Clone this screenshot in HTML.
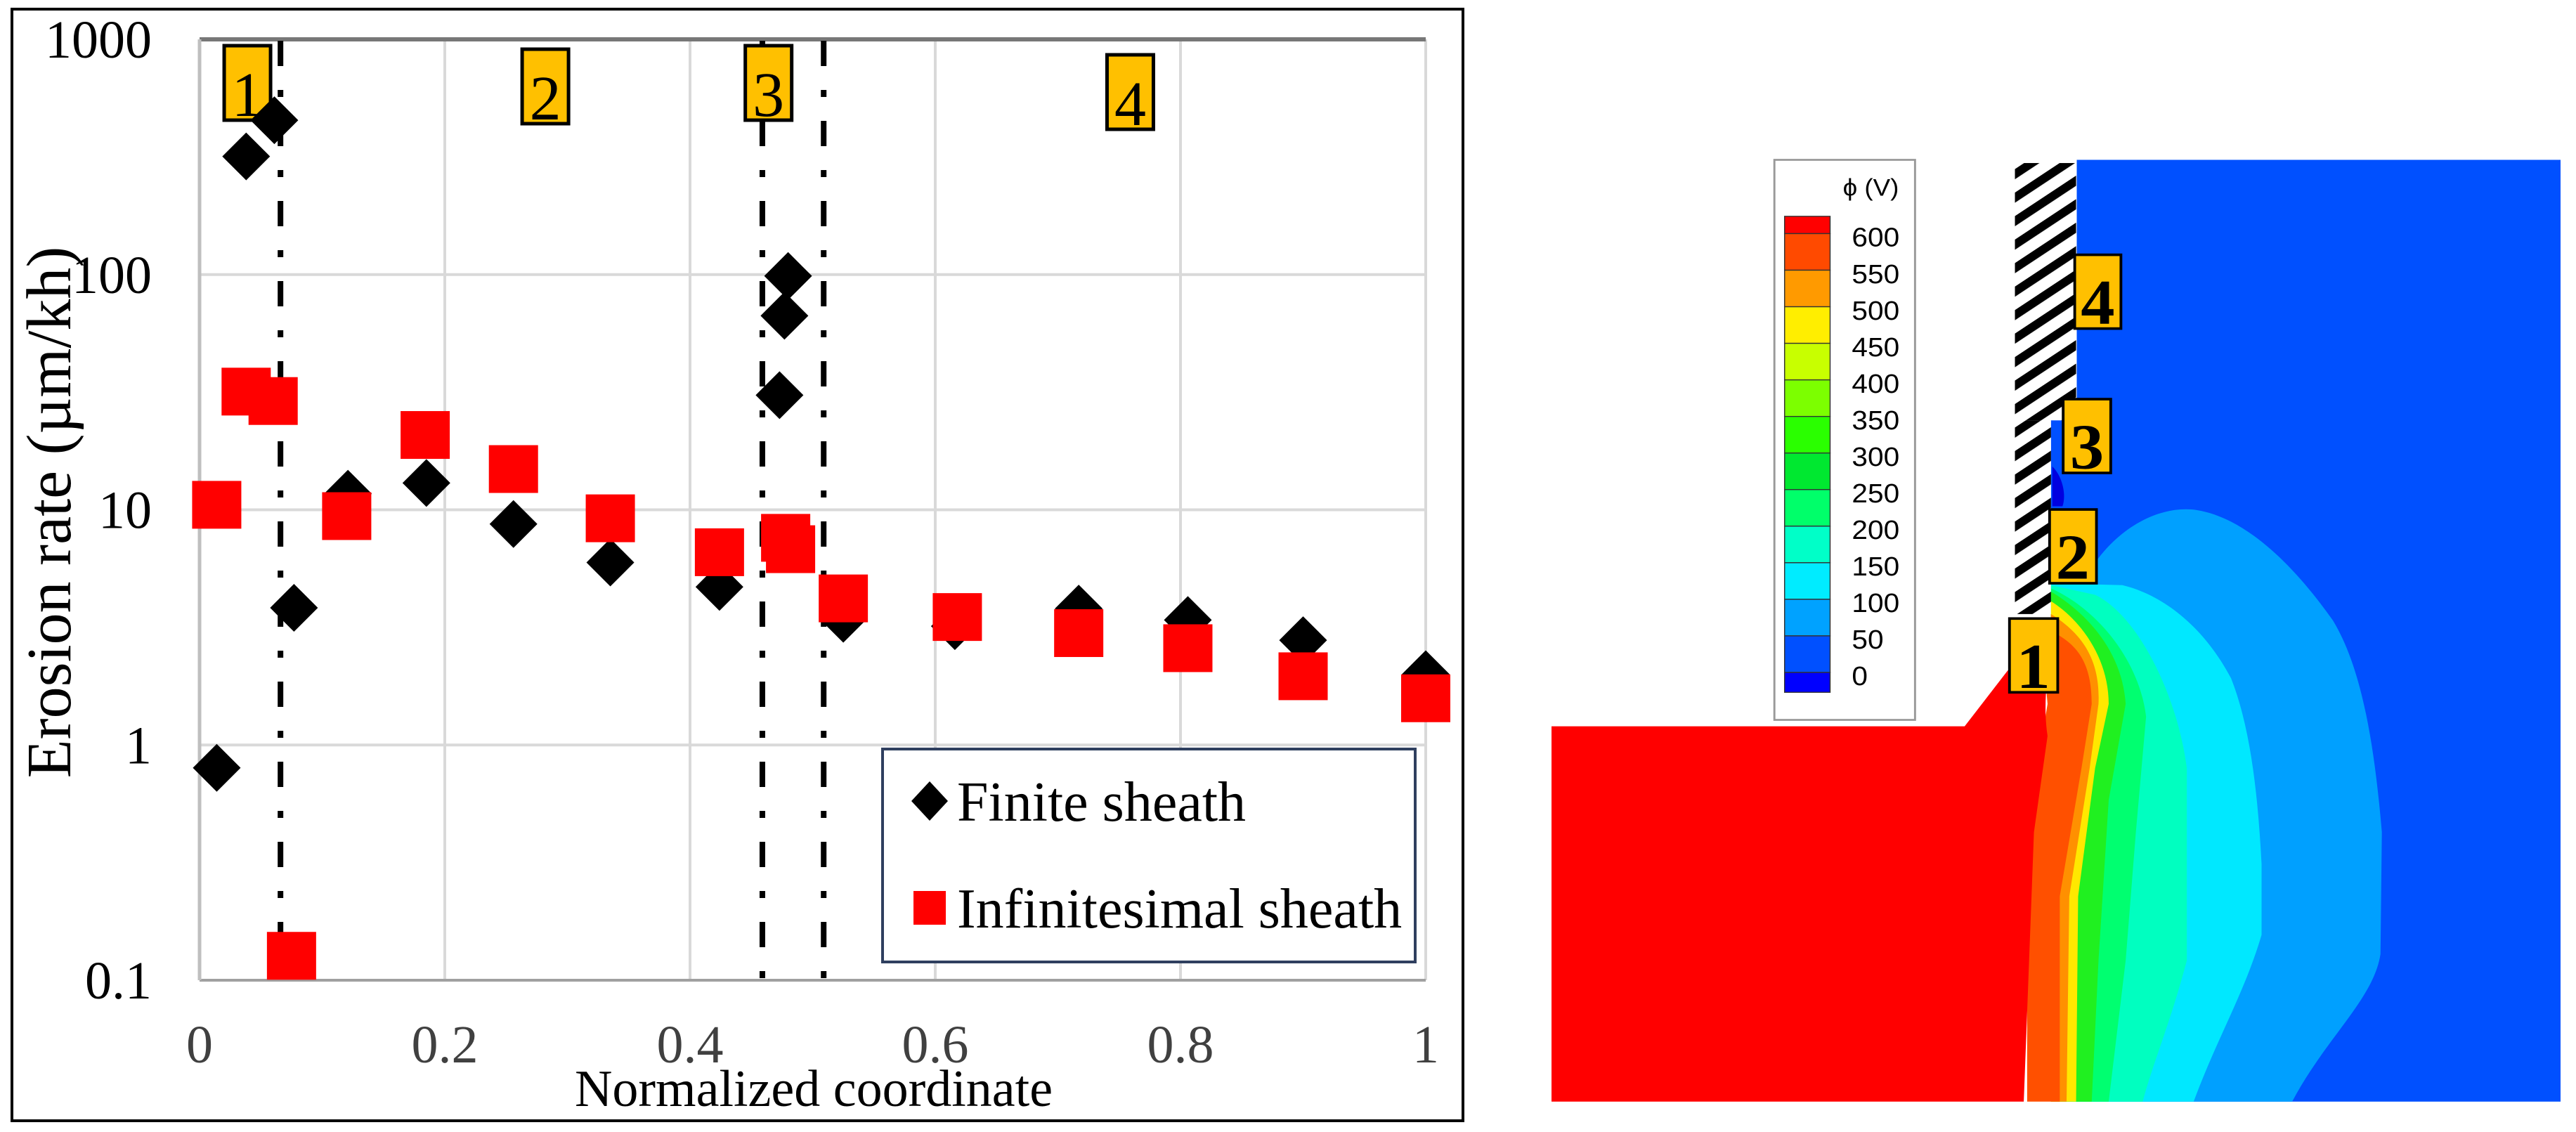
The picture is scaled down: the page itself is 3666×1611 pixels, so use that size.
<!DOCTYPE html>
<html><head><meta charset="utf-8"><style>
html,body{margin:0;padding:0;background:#fff;}
svg{display:block;}
</style></head><body>
<svg id="root" width="3666" height="1611" viewBox="0 0 3666 1611" xmlns="http://www.w3.org/2000/svg" font-family="Liberation Serif, serif">
<defs>
<pattern id="hatch" patternUnits="userSpaceOnUse" width="30" height="30" patternTransform="rotate(-35)">
<rect width="30" height="30" fill="#fff"/><rect width="30" height="13" fill="#000"/>
</pattern>
</defs>
<rect x="17" y="13" width="2065" height="1582" fill="#fff" stroke="#000" stroke-width="4"/>
<g id="chart"></g>

<g transform="translate(2150,180) scale(0.967,0.913)">
<rect x="833" y="52" width="712" height="1468" fill="#0050ff"/>
<rect x="795" y="458" width="40" height="300" fill="#0050ff"/>
<path d="M797,530 C812,545 818,575 812,592 L797,592 Z" fill="#0000e0"/>
<path d="M795,700 L860,680 C900,620 960,590 1010,598 C1080,610 1150,680 1210,770 C1250,840 1270,950 1282,1100 L1280,1290 C1270,1360 1200,1420 1150,1520 L795,1520 Z" fill="#00a0ff"/>
<path d="M795,712 L900,715 C960,730 1020,780 1060,860 C1090,940 1100,1050 1105,1150 L1105,1260 C1080,1350 1040,1420 1005,1520 L795,1520 Z" fill="#00e8ff"/>
<path d="M795,715 L860,730 C920,760 980,880 995,1000 L995,1300 C970,1400 945,1460 930,1520 L795,1520 Z" fill="#00ffc0"/>
<path d="M795,720 C860,750 925,830 935,920 L920,1100 L905,1300 L880,1520 L795,1520 Z" fill="#00ff70"/>
<path d="M795,725 C850,760 900,820 905,900 L880,1050 L865,1300 L855,1520 L795,1520 Z" fill="#20f020"/>
<path d="M795,740 C840,770 880,830 880,900 L860,1000 L835,1200 L832,1520 L795,1520 Z" fill="#ffe800"/>
<path d="M795,760 C840,790 868,830 865,900 L852,1000 L822,1200 L818,1520 L795,1520 Z" fill="#ff9000"/>
<path d="M780,780 C830,800 855,830 855,900 L840,1000 L808,1200 L808,1520 L760,1520 L760,1100 L790,900 Z" fill="#ff5000"/>
<path d="M60,935 L668,935 L730,850 L785,780 C800,830 780,880 790,950 L770,1100 L755,1520 L60,1520 Z" fill="#ff0000"/>
<rect x="742" y="57" width="90" height="401" fill="url(#hatch)"/>
<rect x="742" y="458" width="53" height="302" fill="url(#hatch)"/>
<rect x="388" y="52" width="207" height="873" fill="#fff" stroke="#999" stroke-width="3"/>
<text x="530" y="108" font-family="Liberation Sans, sans-serif" font-size="38" text-anchor="middle">ϕ (V)</text>
<g id="cbar"></g>
<g><rect x="830" y="200" width="68" height="115" fill="#ffc000" stroke="#000" stroke-width="4"/><text x="864" y="308" font-size="100" font-weight="bold" text-anchor="middle">4</text></g>
<g><rect x="813" y="425" width="70" height="115" fill="#ffc000" stroke="#000" stroke-width="4"/><text x="848" y="533" font-size="100" font-weight="bold" text-anchor="middle">3</text></g>
<g><rect x="793" y="597" width="69" height="115" fill="#ffc000" stroke="#000" stroke-width="4"/><text x="827" y="705" font-size="100" font-weight="bold" text-anchor="middle">2</text></g>
<g><rect x="734" y="767" width="71" height="115" fill="#ffc000" stroke="#000" stroke-width="4"/><text x="769" y="875" font-size="100" font-weight="bold" text-anchor="middle">1</text></g>
</g>
</svg>
<script>
const xTicks=[0,0.2,0.4,0.6,0.8,1];
const xTickLabels=["0","0.2","0.4","0.6","0.8","1"];
const yTicks=[0.1,1,10,100,1000];
const yTickLabels=["0.1","1","10","100","1000"];
const finiteX=[0.014,0.038,0.061,0.077,0.121,0.185,0.256,0.335,0.424,0.473,0.477,0.480,0.525,0.616,0.717,0.806,0.900,1.0];
const finiteY=[0.80,318,453,3.83,11.7,13,8.7,5.97,4.7,30.7,66.8,98.6,3.44,3.2,3.8,3.4,2.79,2.0];
const infX=[0.014,0.038,0.060,0.075,0.120,0.184,0.256,0.335,0.424,0.478,0.482,0.525,0.618,0.717,0.806,0.900,1.0];
const infY=[10.5,31.8,29,0.127,9.4,20.8,14.9,9.2,6.6,7.6,6.8,4.2,3.5,2.99,2.58,1.96,1.58];
const regionLines=[0.066,0.459,0.509];
const regionLabels=["1","2","3","4"];
const regionLabelX=[0.039,0.282,0.464,0.759];
const cbarLabels=["600","550","500","450","400","350","300","250","200","150","100","50","0"];
const cbarColors=["#ff0000","#ff4a00","#ff9a00","#ffee00","#c8ff00","#7cff00","#2aff00","#00e830","#00ff6a","#00ffc8","#00ecff","#00a2ff","#0050ff","#0000ff"];

const NS="http://www.w3.org/2000/svg";
const SERIF="Liberation Serif, serif";
const L=284,R=2029,T=56,B=1395;
const xs=v=>L+v*(R-L);
const ys=v=>T+(Math.log10(1000)-Math.log10(v))*(B-T)/4;
function mk(tag,attrs,parent){const e=document.createElementNS(NS,tag);for(const k in attrs)e.setAttribute(k,attrs[k]);if(tag==='text'&&!attrs['font-family'])e.setAttribute('font-family',SERIF);parent.appendChild(e);return e;}
const g=document.getElementById('chart');
xTicks.forEach((t,i)=>{if(i>0){const l=mk('line',{x1:xs(t),x2:xs(t),y1:T,y2:B,stroke:'#d9d9d9','stroke-width':4},g);

}
const tx=mk('text',{x:xs(t),y:1512,'font-size':76,'text-anchor':'middle',fill:'#404040'},g);tx.textContent=xTickLabels[i];

});
yTicks.forEach((t,i)=>{const l=mk('line',{x1:L,x2:R,y1:ys(t),y2:ys(t),stroke:i==0?'#a0a0a0':(i==4?'#777':'#d9d9d9'),'stroke-width':i==4?6:4},g);


const tx=mk('text',{x:216,y:ys(t)+26,'font-size':76,'text-anchor':'end',fill:'#000'},g);tx.textContent=yTickLabels[i];

});
const ax=mk('line',{x1:L,x2:L,y1:T,y2:B,stroke:'#bfbfbf','stroke-width':5},g);


regionLines.forEach(v=>{const l=mk('line',{x1:xs(v),x2:xs(v),y1:T+2,y2:B,stroke:'#000','stroke-width':8,'stroke-dasharray':'36 34 10 34'},g);

});
regionLabels.forEach((s,i)=>{const cx=xs(regionLabelX[i]);const y0=i==3?78:(i==1?70:65);
const r=mk('rect',{x:cx-33,y:y0,width:66,height:106,fill:'#ffc000',stroke:'#000','stroke-width':5},g);


const tx=mk('text',{x:cx,y:y0+100,'font-size':90,'text-anchor':'middle'},g);tx.textContent=s;

});
finiteX.forEach((x,i)=>{const cx=xs(x),cy=ys(finiteY[i]);
const p=mk('path',{d:`M${cx},${cy-34} L${cx+34},${cy} L${cx},${cy+34} L${cx-34},${cy} Z`,fill:'#000'},g);

});
infX.forEach((x,i)=>{const cx=xs(x),cy=ys(infY[i]);
const r=mk('rect',{x:cx-35,y:cy-34,width:70,height:68,fill:'#ff0000'},g);

});
const lg=mk('g',{},g);


mk('rect',{x:1256,y:1066,width:758,height:303,fill:'#fff',stroke:'#2f3f5f','stroke-width':4},lg);
mk('path',{d:'M1323,1112 L1349,1140 L1323,1168 L1297,1140 Z',fill:'#000'},lg);
const t1=mk('text',{x:1362,y:1168,'font-size':80},lg);t1.textContent='Finite sheath';


mk('rect',{x:1300,y:1268,width:46,height:48,fill:'#ff0000'},lg);
const t2=mk('text',{x:1362,y:1320,'font-size':80},lg);t2.textContent='Infinitesimal sheath';


const xt=mk('text',{x:1158,y:1574,'font-size':74,'text-anchor':'middle'},g);xt.textContent='Normalized coordinate';


const yt=mk('text',{x:100,y:729,'font-size':90,'text-anchor':'middle',transform:'rotate(-90 100 729)'},g);yt.textContent='Erosion rate (µm/kh)';


const cb=document.getElementById('cbar');
cbarColors.forEach((c,i)=>{const y=i==0?140:167+(i-1)*57;const h=i==0?27:(i==13?31:57);
const r=mk('rect',{x:403,y:y,width:67,height:h,fill:c,stroke:'#333','stroke-width':1.5},cb);

});
cbarLabels.forEach((s,i)=>{const tx=mk('text',{x:502,y:187+i*57,'font-size':42,'font-family':'Liberation Sans, sans-serif'},cb);tx.textContent=s;

});
</script>
</body></html>
